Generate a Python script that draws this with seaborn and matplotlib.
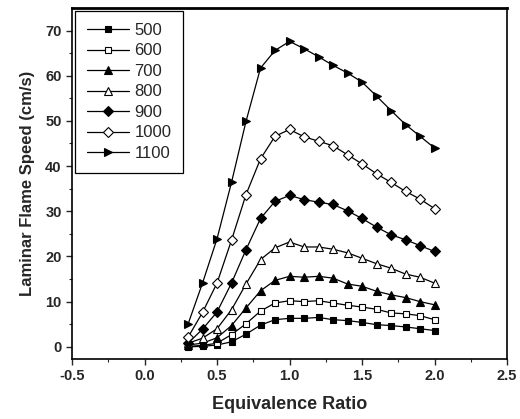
import numpy as np
import pandas as pd
import matplotlib
matplotlib.use("Agg")
import matplotlib.pyplot as plt
import seaborn as sns

phi = [0.3, 0.4, 0.5, 0.6, 0.7, 0.8, 0.9, 1.0, 1.1, 1.2, 1.3, 1.4, 1.5, 1.6, 1.7, 1.8, 1.9, 2.0]

s500 = [0.0, 0.1, 0.4, 1.1, 2.8, 4.8, 6.0, 6.3, 6.3, 6.5, 6.0, 5.8, 5.4, 4.9, 4.7, 4.4, 4.0, 3.6]
s600 = [0.1, 0.3, 0.8, 2.7, 5.1, 7.9, 9.7, 10.2, 10.0, 10.2, 9.7, 9.2, 8.8, 8.3, 7.5, 7.3, 6.9, 6.0]
s700 = [0.4, 0.8, 2.0, 4.7, 8.6, 12.4, 14.7, 15.6, 15.4, 15.6, 15.2, 13.9, 13.4, 12.3, 11.5, 10.9, 10.0, 9.3]
s800 = [0.8, 1.9, 4.0, 8.2, 13.9, 19.3, 21.9, 23.2, 22.1, 22.1, 21.6, 20.8, 19.6, 18.4, 17.4, 16.1, 15.4, 14.1]
s900 = [0.8, 3.9, 7.7, 14.1, 21.5, 28.4, 32.2, 33.5, 32.6, 32.0, 31.5, 30.1, 28.4, 26.5, 24.8, 23.7, 22.4, 21.1]
s1000 = [2.1, 7.6, 14.1, 23.6, 33.7, 41.6, 46.6, 48.1, 46.5, 45.5, 44.5, 42.5, 40.5, 38.3, 36.4, 34.4, 32.7, 30.6]
s1100 = [5.0, 14.1, 23.9, 36.4, 49.9, 61.7, 65.6, 67.6, 66.0, 64.2, 62.3, 60.6, 58.6, 55.5, 52.3, 49.2, 46.6, 44.0]

labels = ["500", "600", "700", "800", "900", "1000", "1100"]
series = [s500, s600, s700, s800, s900, s1000, s1100]
markers = ["s", "s", "^", "^", "D", "D", ">"]
filled = [True, False, True, False, True, False, True]
msizes = [5, 5, 6, 6, 5.5, 5.5, 6]

x_ticks = [-0.5, 0.0, 0.5, 1.0, 1.5, 2.0, 2.5]
y_ticks = [0, 10, 20, 30, 40, 50, 60, 70]

sns.set_style("ticks")
plt.rcParams["font.family"] = ["Liberation Sans", "DejaVu Sans"]

fig = plt.figure(figsize=(5.2, 4.19), dpi=100)
ax = fig.add_axes([0.1385, 0.1432, 0.8365, 0.8378])

for lab, vals, m, f, ms in zip(labels, series, markers, filled, msizes):
    df = pd.DataFrame({"phi": phi, "S": vals})
    sns.lineplot(data=df, x="phi", y="S", ax=ax, color="black", lw=0.9,
                 marker=m, markersize=ms, markeredgecolor="black",
                 markerfacecolor=("black" if f else "white"), markeredgewidth=0.8,
                 label=lab)

ax.set_xlim(-0.5, 2.5)
ax.set_ylim(-2.7, 75)
ax.set_xticks(x_ticks)
ax.set_xticklabels([f"{v:.1f}" for v in x_ticks])
ax.set_yticks(y_ticks)
ax.set_xticks(np.arange(-0.25, 2.5, 0.5), minor=True)
ax.set_yticks(np.arange(5, 75, 10), minor=True)
ax.tick_params(axis="both", which="major", direction="out", length=4, width=1,
               labelsize=10.5, top=False, right=False)
ax.tick_params(axis="both", which="minor", direction="out", length=2.5, width=0.8,
               top=False, right=False)
for lbl in ax.get_xticklabels() + ax.get_yticklabels():
    lbl.set_fontweight("bold")
for sp in ax.spines.values():
    sp.set_visible(True)
    sp.set_linewidth(1.2)
    sp.set_color("black")
ax.spines["top"].set_linewidth(2)

ax.set_xlabel("Equivalence Ratio", fontsize=13, fontweight="bold", labelpad=9)
ax.set_ylabel("Laminar Flame Speed (cm/s)", fontsize=12, fontweight="bold", labelpad=7)

leg = ax.legend(loc="upper left", fontsize=12, borderaxespad=0.2,
                handlelength=2.5, handletextpad=0.35, labelspacing=0.33,
                fancybox=False, framealpha=1, edgecolor="black", borderpad=0.7)
leg.get_frame().set_linewidth(0.9)

fig.savefig("out.png", dpi=100)
